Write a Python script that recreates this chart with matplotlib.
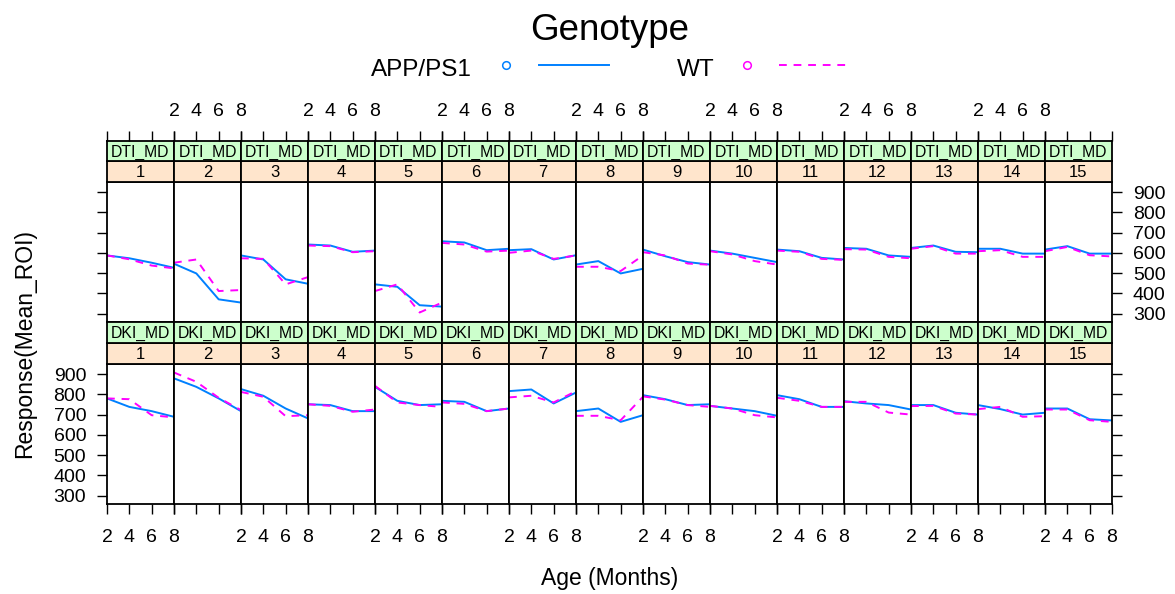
import matplotlib
matplotlib.use('Agg')
import matplotlib.pyplot as plt
from matplotlib.lines import Line2D

plt.rcParams['font.family'] = ['Liberation Sans', 'DejaVu Sans']

ages = [2, 4, 6, 8]
rois = [str(i) for i in range(1, 16)]
measures = ['DTI_MD', 'DKI_MD']
groups = ['APP/PS1', 'WT']
y_ticks = [300, 400, 500, 600, 700, 800, 900]

dti_app = [[587, 573, 551, 526], [546, 498, 370, 354], [587, 567, 469, 447],
           [641, 636, 605, 611], [444, 432, 341, 334], [657, 651, 613, 620],
           [613, 618, 567, 588], [542, 559, 498, 521], [616, 583, 554, 542],
           [611, 596, 575, 554], [616, 608, 575, 567], [624, 620, 587, 580],
           [624, 636, 605, 603], [620, 620, 596, 596], [616, 633, 596, 596]]
dti_wt = [[587, 568, 537, 523], [551, 567, 411, 416], [573, 570, 444, 480],
          [636, 633, 603, 608], [411, 444, 305, 354], [649, 641, 606, 611],
          [600, 611, 570, 587], [531, 531, 510, 587], [603, 587, 547, 541],
          [608, 592, 559, 542], [611, 605, 570, 565], [618, 616, 580, 573],
          [620, 633, 596, 596], [608, 613, 580, 580], [608, 629, 588, 582]]
dki_app = [[780, 738, 717, 689], [879, 837, 780, 717], [826, 793, 730, 681],
           [751, 747, 717, 717], [837, 768, 747, 751], [768, 763, 717, 730],
           [816, 824, 755, 809], [717, 730, 664, 697], [796, 776, 747, 751],
           [743, 730, 717, 694], [796, 776, 738, 738], [766, 755, 747, 725],
           [747, 747, 709, 700], [747, 727, 700, 709], [730, 730, 677, 671]]
dki_wt = [[780, 776, 697, 686], [908, 862, 783, 722], [812, 788, 692, 697],
          [751, 743, 714, 725], [842, 760, 747, 738], [760, 753, 717, 730],
          [785, 793, 760, 816], [694, 694, 672, 788], [790, 774, 747, 738],
          [743, 730, 697, 686], [783, 768, 738, 738], [763, 763, 710, 700],
          [742, 743, 705, 700], [727, 738, 689, 692], [725, 725, 672, 664]]

data = {'DTI_MD': (dti_app, dti_wt), 'DKI_MD': (dki_app, dki_wt)}

BLUE = '#0080ff'
MAGENTA = '#ff00ff'
GREEN = '#ccffcc'
ORANGE = '#ffe5cc'

W, H = 1175, 594
fig = plt.figure(figsize=(W / 100, H / 100), dpi=100)


def rect(x0, y0, x1, y1):
    return [x0 / W, 1 - y1 / H, (x1 - x0) / W, (y1 - y0) / H]


X0, PW = 107, 67
rows = [  # (measure, green top, orange top, panel top, panel bottom)
    ('DTI_MD', 141, 161, 182, 322),
    ('DKI_MD', 322, 343, 364, 504),
]
YLIM = (258, 950)
TICKFS = 14
TLEN = 7
SPW = 1.3
LW = 1.4

for r, (meas, gtop, otop, ptop, pbot) in enumerate(rows):
    app, wt = data[meas]
    for j in range(15):
        x0 = X0 + PW * j
        x1 = x0 + PW
        ax = fig.add_axes(rect(x0, ptop, x1, pbot))
        ax.plot(ages, app[j], color=BLUE, lw=LW)
        ax.plot(ages, wt[j], color=MAGENTA, lw=LW, dashes=(4, 3.5))
        ax.set_xlim(2, 8)
        ax.set_ylim(*YLIM)
        for s in ax.spines.values():
            s.set_linewidth(SPW)
        ax.tick_params(axis='both', direction='out', length=TLEN, width=1,
                       labelsize=TICKFS)
        # x ticks
        if r == 1:
            ax.set_xticks(ages)
            ax.xaxis.set_ticks_position('bottom')
            if j % 2 == 0:
                ax.set_xticklabels([str(a) for a in ages])
                ax.tick_params(axis='x', pad=11)
            else:
                ax.set_xticklabels([])
        else:
            ax.set_xticks([])
        # y ticks
        if j == 0:
            ax.set_yticks(y_ticks)
            ax.yaxis.set_ticks_position('left')
            if r == 1:
                ax.set_yticklabels([str(v) for v in y_ticks])
                ax.tick_params(axis='y', pad=8)
            else:
                ax.set_yticklabels([])
        elif j == 14:
            ax.set_yticks(y_ticks)
            ax.yaxis.set_ticks_position('right')
            if r == 0:
                ax.yaxis.set_tick_params(labelright=True, labelleft=False, pad=8)
                ax.set_yticklabels([str(v) for v in y_ticks])
            else:
                ax.set_yticklabels([])
        else:
            ax.set_yticks([])

        # strips
        axo = fig.add_axes(rect(x0, otop, x1, ptop))
        axo.set_facecolor(ORANGE)
        axo.set_xticks([]); axo.set_yticks([])
        axo.text(0.5, 0.45, rois[j], ha='center', va='center', fontsize=12,
                 transform=axo.transAxes)
        axg = fig.add_axes(rect(x0, gtop, x1, otop))
        axg.set_facecolor(GREEN)
        axg.set_yticks([])
        axg.text(0.5, 0.45, meas, ha='center', va='center', fontsize=11.3,
                 transform=axg.transAxes)
        for a in (axo, axg):
            for s in a.spines.values():
                s.set_linewidth(SPW)
        if r == 0:
            axg.set_xlim(2, 8)
            axg.set_xticks(ages)
            axg.xaxis.set_ticks_position('top')
            axg.tick_params(axis='x', direction='out', length=TLEN, width=1,
                            labelsize=TICKFS, pad=8)
            if j % 2 == 1:
                axg.set_xticklabels([str(a) for a in ages])
            else:
                axg.set_xticklabels([])
        else:
            axg.set_xticks([])

# Labels
fig.text(610 / W, 1 - 578 / H, 'Age (Months)', ha='center', va='center',
         fontsize=16.5)
fig.text(25 / W, 1 - 343 / H, 'Response(Mean_ROI)', ha='center', va='center',
         rotation=90, fontsize=16.5)
fig.text(610 / W, 1 - 39.5 / H, 'Genotype', ha='center', va='baseline',
         fontsize=26.5)

# Legend
ly = 1 - 65 / H
fig.text(471.7 / W, 1 - 76 / H, groups[0], ha='right', va='baseline', fontsize=17.5)
fig.add_artist(Line2D([506 / W], [ly], marker='o', markersize=5.5,
                      markerfacecolor='none', markeredgecolor=BLUE, mew=1.1,
                      transform=fig.transFigure, linestyle='none'))
fig.add_artist(Line2D([539 / W, 609 / W], [ly, ly], color=BLUE, lw=LW,
                      transform=fig.transFigure))
fig.text(715 / W, 1 - 76 / H, groups[1], ha='right', va='baseline', fontsize=17.5)
fig.add_artist(Line2D([746.7 / W], [ly], marker='o', markersize=5.5,
                      markerfacecolor='none', markeredgecolor=MAGENTA, mew=1.1,
                      transform=fig.transFigure, linestyle='none'))
fig.add_artist(Line2D([779 / W, 848 / W], [ly, ly], color=MAGENTA, lw=LW,
                      dashes=(4, 3.5), transform=fig.transFigure))

fig.savefig('out.png', dpi=100)
